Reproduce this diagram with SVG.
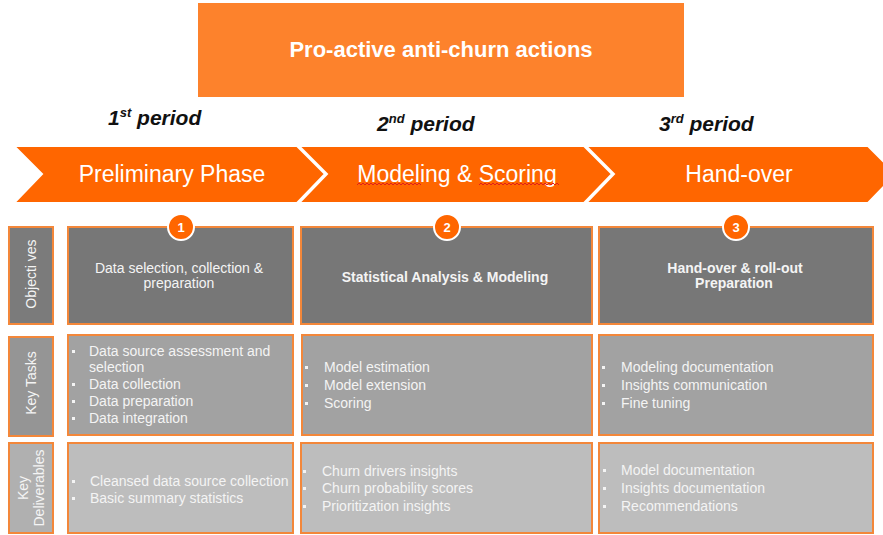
<svg xmlns="http://www.w3.org/2000/svg" width="883" height="535" viewBox="0 0 883 535">
<style>
.box{stroke:#F3873A;stroke-width:2}
.obj{fill:#777777}
.task{fill:#a2a2a2}
.del{fill:#bdbdbd}
.objL{fill:#7b7b7b}
.taskL{fill:#959595}
.delL{fill:#b0b0b0}
.chev{fill:#FF6600;stroke:#ffffff;stroke-width:2}
.t{font-family:"Liberation Sans",Arial,sans-serif;fill:#f4f4f4}
.s{font-size:14px}
.b{font-weight:bold}
.per{font-family:"Liberation Sans",Arial,sans-serif;font-weight:bold;font-style:italic;font-size:21px;fill:#111111}
.ch{font-family:"Liberation Sans",Arial,sans-serif;font-size:23px;fill:#ffffff;text-anchor:middle}
.bul{fill:#f4f4f4}
.badge{fill:#FF6600;stroke:#ffffff;stroke-width:2}
.num{font-family:"Liberation Sans",Arial,sans-serif;font-weight:bold;font-size:13px;fill:#ffffff;text-anchor:middle}
.wavy{fill:none;stroke:#e0201a;stroke-width:1}
</style>
<rect width="883" height="535" fill="#ffffff"/>

<g id="title">
<rect x="198" y="3" width="486" height="94" fill="#FD822C"/>
<text x="441" y="57" text-anchor="middle" font-family="Liberation Sans, Arial, sans-serif" font-weight="bold" font-size="22" fill="#ffffff">Pro-active anti-churn actions</text>
</g>

<g id="periods">
<text class="per" x="108" y="125">1<tspan font-size="13" dy="-8">st</tspan><tspan dy="8"> period</tspan></text>
<text class="per" x="377" y="131">2<tspan font-size="13" dy="-8">nd</tspan><tspan dy="8"> period</tspan></text>
<text class="per" x="659" y="131">3<tspan font-size="13" dy="-8">rd</tspan><tspan dy="8"> period</tspan></text>
</g>

<g id="phase1">
<polygon class="chev" points="14,146 297,146 325,174 297,203 14,203 42,174"/>
<text class="ch" x="172" y="182">Preliminary Phase</text>
</g>
<g id="phase2">
<polygon class="chev" points="299,146 584,146 612,174 584,203 299,203 327,174"/>
<text class="ch" x="457" y="182">Modeling &amp; Scoring</text>
<path class="wavy" d="M357,185 l2,-2 l2,2 l2,-2 l2,2 l2,-2 l2,2 l2,-2 l2,2 l2,-2 l2,2 l2,-2 l2,2 l2,-2 l2,2 l2,-2 l2,2 l2,-2 l2,2 l2,-2 l2,2 l2,-2 l2,2 l2,-2 l2,2 l2,-2 l2,2 l2,-2 l2,2 l2,-2 l2,2 l2,-2 l2,2"/>
<path class="wavy" d="M479,185 l2,-2 l2,2 l2,-2 l2,2 l2,-2 l2,2 l2,-2 l2,2 l2,-2 l2,2 l2,-2 l2,2 l2,-2 l2,2 l2,-2 l2,2 l2,-2 l2,2 l2,-2 l2,2 l2,-2 l2,2 l2,-2 l2,2 l2,-2 l2,2 l2,-2 l2,2 l2,-2 l2,2 l2,-2 l2,2 l2,-2 l2,2 l2,-2 l2,2 l2,-2 l2,2 l2,-2 l2,2"/>
</g>
<g id="phase3">
<polygon class="chev" points="586,146 868,146 896,174 868,203 586,203 614,174"/>
<text class="ch" x="739" y="182">Hand-over</text>
</g>

<g id="label-objectives">
<rect class="box objL" x="9" y="227" width="44" height="97"/>
<text class="t s" transform="translate(36,274) rotate(-90)" text-anchor="middle">Objecti ves</text>
</g>
<g id="label-tasks">
<rect class="box taskL" x="9" y="337" width="44" height="99"/>
<text class="t s" transform="translate(36,383) rotate(-90)" text-anchor="middle">Key Tasks</text>
</g>
<g id="label-deliverables">
<rect class="box delL" x="9" y="443" width="44" height="90"/>
<text class="t s" transform="translate(28,488) rotate(-90)" text-anchor="middle">Key</text>
<text class="t s" transform="translate(44,488) rotate(-90)" text-anchor="middle">Deliverables</text>
</g>

<g id="obj1">
<rect class="box obj" x="68" y="227" width="225" height="97"/>
<text class="t s" x="179" y="273" text-anchor="middle">Data selection, collection &amp;</text>
<text class="t s" x="179" y="288" text-anchor="middle">preparation</text>
</g>
<g id="obj2">
<rect class="box obj" x="301" y="227" width="291" height="97"/>
<text class="t s b" x="445" y="282" text-anchor="middle" font-size="13.5">Statistical Analysis &amp; Modeling</text>
</g>
<g id="obj3">
<rect class="box obj" x="599" y="227" width="274" height="97"/>
<text class="t s b" x="735" y="273" text-anchor="middle" font-size="13.5">Hand-over &amp; roll-out</text>
<text class="t s b" x="734" y="288" text-anchor="middle" font-size="13.5">Preparation</text>
</g>

<g id="badge1">
<circle class="badge" cx="181" cy="227" r="13"/>
<text class="num" x="181" y="232">1</text>
</g>
<g id="badge2">
<circle class="badge" cx="447" cy="227" r="13"/>
<text class="num" x="447" y="232">2</text>
</g>
<g id="badge3">
<circle class="badge" cx="736" cy="227" r="13"/>
<text class="num" x="736" y="232">3</text>
</g>

<g id="tasks1">
<rect class="box task" x="68" y="335" width="225" height="100"/>
<rect class="bul" x="72" y="350" width="3" height="3"/>
<rect class="bul" x="72" y="383" width="3" height="3"/>
<rect class="bul" x="72" y="400" width="3" height="3"/>
<rect class="bul" x="72" y="417" width="3" height="3"/>
<text class="t s" x="89" y="356">Data source assessment and</text>
<text class="t s" x="89" y="372">selection</text>
<text class="t s" x="89" y="389">Data collection</text>
<text class="t s" x="89" y="406">Data preparation</text>
<text class="t s" x="89" y="423">Data integration</text>
</g>
<g id="tasks2">
<rect class="box task" x="302" y="335" width="290" height="100"/>
<rect class="bul" x="305" y="366" width="3" height="3"/>
<rect class="bul" x="305" y="384" width="3" height="3"/>
<rect class="bul" x="305" y="402" width="3" height="3"/>
<text class="t s" x="324" y="372">Model estimation</text>
<text class="t s" x="324" y="390">Model extension</text>
<text class="t s" x="324" y="408">Scoring</text>
</g>
<g id="tasks3">
<rect class="box task" x="599" y="335" width="274" height="100"/>
<rect class="bul" x="602" y="366" width="3" height="3"/>
<rect class="bul" x="602" y="384" width="3" height="3"/>
<rect class="bul" x="602" y="402" width="3" height="3"/>
<text class="t s" x="621" y="372">Modeling documentation</text>
<text class="t s" x="621" y="390">Insights communication</text>
<text class="t s" x="621" y="408">Fine tuning</text>
</g>

<g id="del1">
<rect class="box del" x="68" y="443" width="225" height="90"/>
<rect class="bul" x="72" y="480" width="3" height="3"/>
<rect class="bul" x="72" y="497" width="3" height="3"/>
<text class="t s" x="90" y="486">Cleansed data source collection</text>
<text class="t s" x="90" y="503">Basic summary statistics</text>
</g>
<g id="del2">
<rect class="box del" x="301" y="443" width="291" height="90"/>
<rect class="bul" x="303" y="470" width="3" height="3"/>
<rect class="bul" x="303" y="487" width="3" height="3"/>
<rect class="bul" x="303" y="505" width="3" height="3"/>
<text class="t s" x="322" y="476">Churn drivers insights</text>
<text class="t s" x="322" y="493">Churn probability scores</text>
<text class="t s" x="322" y="511">Prioritization insights</text>
</g>
<g id="del3">
<rect class="box del" x="599" y="443" width="274" height="90"/>
<rect class="bul" x="603" y="469" width="3" height="3"/>
<rect class="bul" x="603" y="487" width="3" height="3"/>
<rect class="bul" x="603" y="505" width="3" height="3"/>
<text class="t s" x="621" y="475">Model documentation</text>
<text class="t s" x="621" y="493">Insights documentation</text>
<text class="t s" x="621" y="511">Recommendations</text>
</g>
</svg>
